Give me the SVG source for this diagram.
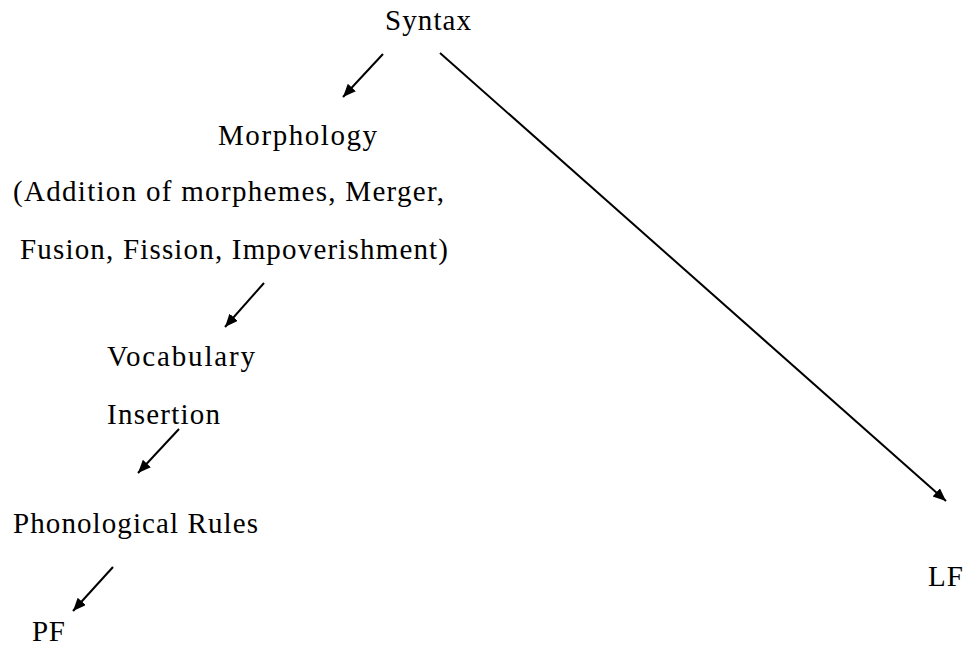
<svg xmlns="http://www.w3.org/2000/svg" width="971" height="646" viewBox="0 0 971 646">
  <style>
    text { font-family: 'Liberation Serif', 'Times New Roman', serif; font-size: 29px; fill: #000; }
    .edge { stroke: #000; stroke-width: 2; fill: none; marker-end: url(#head); }
  </style>
  <defs>
    <marker id="head" markerUnits="userSpaceOnUse" markerWidth="14" markerHeight="12" refX="13" refY="5.5" orient="auto">
      <path d="M0,0 L13,5.5 L0,11 z" fill="#000"/>
    </marker>
  </defs>
  <rect width="971" height="646" fill="#fff"/>

  <!-- derivation arrows -->
  <g id="connectors">
    <line class="edge" x1="383" y1="54" x2="343" y2="97"/>
    <line class="edge" x1="440" y1="53" x2="946" y2="501"/>
    <line class="edge" x1="264" y1="283" x2="225" y2="327"/>
    <line class="edge" x1="179" y1="429" x2="138" y2="473"/>
    <line class="edge" x1="113" y1="567" x2="73" y2="611"/>
  </g>

  <g id="syntax"><text x="385" y="30" textLength="86" lengthAdjust="spacing">Syntax</text></g>
  <g id="morphology">
    <text x="218" y="145" textLength="159" lengthAdjust="spacing">Morphology</text>
    <text x="13" y="201" textLength="431" lengthAdjust="spacing">(Addition of morphemes, Merger,</text>
    <text x="20" y="259" textLength="428" lengthAdjust="spacing">Fusion, Fission, Impoverishment)</text>
  </g>
  <g id="vocabulary-insertion">
    <text x="107" y="366" textLength="148" lengthAdjust="spacing">Vocabulary</text>
    <text x="107" y="424" textLength="113" lengthAdjust="spacing">Insertion</text>
  </g>
  <g id="phonological-rules"><text x="13" y="533" textLength="245" lengthAdjust="spacing">Phonological Rules</text></g>
  <g id="pf"><text x="32" y="641" textLength="33" lengthAdjust="spacing">PF</text></g>
  <g id="lf"><text x="928" y="586" textLength="35" lengthAdjust="spacing">LF</text></g>
</svg>
